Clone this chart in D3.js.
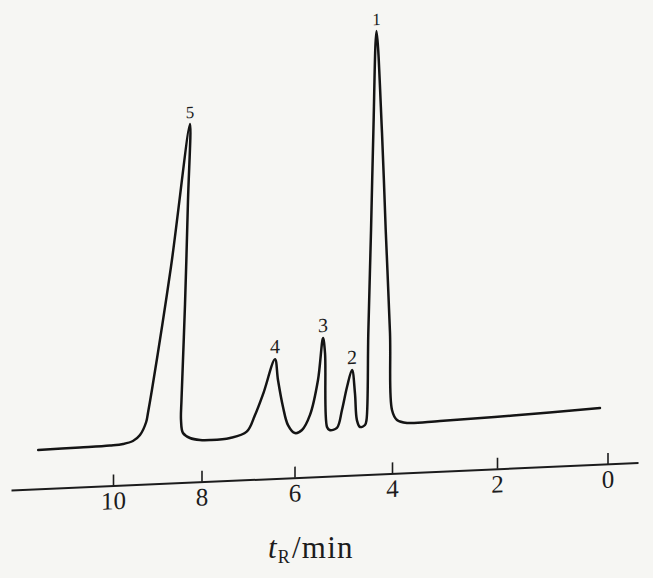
<!DOCTYPE html>
<html>
<head>
<meta charset="utf-8">
<script src="https://cdn.jsdelivr.net/npm/d3@7"></script>
<style>
  html, body { margin: 0; padding: 0; background: #f6f6f3; }
  svg { display: block; }
</style>
</head>
<body>
<script>
// ---- data ----
const traceTime = [11.69, 10.75, 10.07, 9.77, 9.55, 9.39, 9.25, 9.21, 9.12, 8.69, 8.26, 8.305, 8.373, 8.452, 8.463, 8.418, 8.26, 8.034, 7.817, 7.387, 7.028, 6.849, 6.67, 6.42, 6.355, 6.247, 6.14, 5.99, 5.846, 5.682, 5.518, 5.415, 5.374, 5.333, 5.28, 5.13, 5.026, 4.923, 4.82, 4.76, 4.72, 4.656, 4.554, 4.523, 4.486, 4.43, 4.383, 4.318, 4.205, 4.129, 4.041, 4.0, 3.905, 3.714, 3.086, 1.71, 0.136];
const traceSignal = [0.08, 0.25, 0.42, 0.65, 1.28, 2.69, 5.83, 8.03, 13.66, 43.8, 78.84, 60.1, 34.3, 10.9, 5.94, 2.71, 1.41, 0.81, 0.69, 0.99, 2.35, 6.39, 11.64, 19.9, 14.77, 8.06, 3.55, 1.5, 2.17, 5.8, 14.33, 24.64, 20.9, 2.65, 1.87, 2.3, 6.68, 12.3, 16.44, 10.7, 4.04, 2.29, 2.74, 3.95, 25.4, 50.75, 74.6, 99.76, 74.56, 50.6, 25.15, 6.14, 3.63, 2.79, 2.91, 3.48, 4.39];
const peakLabels = ["1", "2", "3", "4", "5"];
const peakTimes = [4.318, 4.82, 5.415, 6.42, 8.26];
const peakHeights = [99.76, 16.44, 24.64, 19.9, 78.84];
const tickValues = [10, 8, 6, 4, 2, 0];
const tickLabels = ["10", "8", "6", "4", "2", "0"];
const axisTitleMain = "t";
const axisTitleSub = "R";
const axisTitleUnit = "/min";

// ---- drawing ----
const W = 653, H = 578;
const FONT = "Liberation Serif";
const svg = d3.select("body").append("svg").attr("width", W).attr("height", H);
svg.append("rect").attr("width", W).attr("height", H).attr("fill", "#f6f6f3");

// the scanned page is slightly tilted: draw in a sheared frame
const g = svg.append("g").attr("transform", "skewY(-2.5)");

// time axis (reversed, non-uniform spacing as printed)
const x = d3.scaleLinear()
  .domain([12.305, 10, 8, 6, 4, 2, 0, -0.552])
  .range([11, 113, 201.5, 294.5, 392, 497, 607.5, 638]);
const y = d3.scaleLinear().domain([0, 100]).range([452, 46.5]);

const axisY = 490.5;
const axis = d3.axisBottom(x)
  .tickValues(tickValues)
  .tickFormat((d, i) => tickLabels[i])
  .tickSizeInner(-11)
  .tickSizeOuter(0)
  .tickPadding(6);
const ax = g.append("g").attr("transform", `translate(0,${axisY})`).call(axis);
ax.attr("font-family", FONT).attr("font-size", 25);
ax.select(".domain").attr("stroke", "#1c1c1c").attr("stroke-width", 2);
ax.selectAll(".tick line").attr("stroke", "#1c1c1c").attr("stroke-width", 1.6);
ax.selectAll(".tick text")
  .attr("fill", "#1c1c1c")
  .style("font-family", FONT)
  .style("font-size", "25px");

// chromatogram trace
const pts = traceTime.map((t, i) => [t, traceSignal[i]]);
const line = d3.line()
  .x(d => x(d[0]))
  .y(d => y(d[1]))
  .curve(d3.curveCatmullRom.alpha(0.5));
g.append("path")
  .attr("d", line(pts))
  .attr("fill", "none")
  .attr("stroke", "#141414")
  .attr("stroke-width", 2.5)
  .attr("stroke-linejoin", "round")
  .attr("stroke-linecap", "round");

// peak numbers
g.selectAll("text.peak")
  .data(peakLabels)
  .join("text")
  .attr("class", "peak")
  .attr("x", (d, i) => x(peakTimes[i]))
  .attr("y", (d, i) => y(peakHeights[i]) - 6)
  .attr("text-anchor", "middle")
  .style("font-family", FONT)
  .style("font-size", d => (d === "1" || d === "5") ? "17px" : "20px")
  .attr("fill", "#1c1c1c")
  .text(d => d);

// axis title
const title = svg.append("text")
  .attr("x", 268)
  .attr("y", 558)
  .style("font-family", FONT)
  .style("font-size", "31px")
  .style("letter-spacing", "1.2px")
  .attr("fill", "#1c1c1c");
title.append("tspan").style("font-style", "italic").text(axisTitleMain);
title.append("tspan").style("font-size", "18px").attr("dy", 5).text(axisTitleSub);
title.append("tspan").attr("dy", -5).attr("dx", 1).text(axisTitleUnit);
</script>
</body>
</html>
